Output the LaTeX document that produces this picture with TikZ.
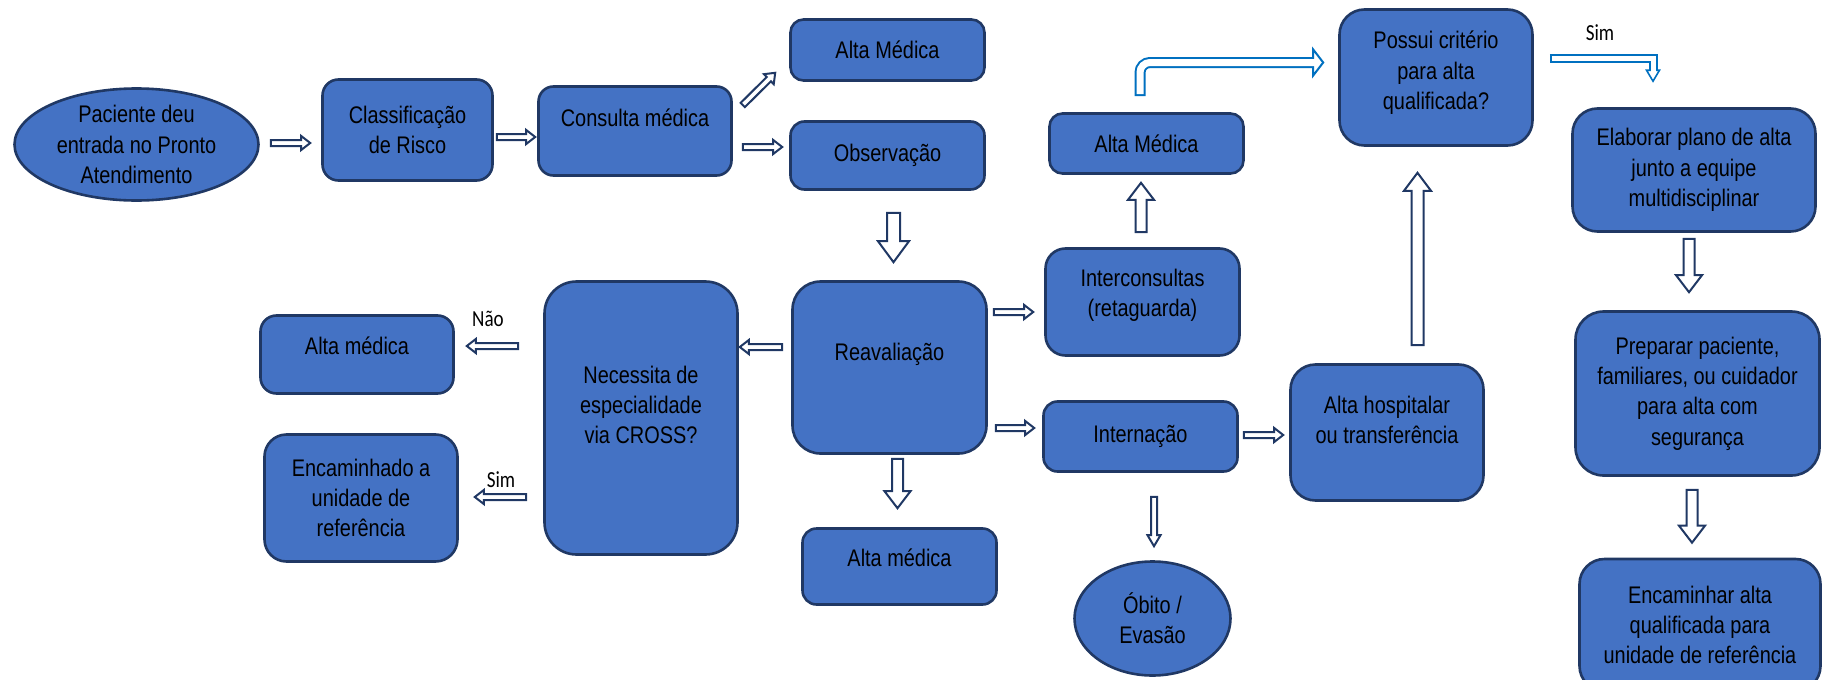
\documentclass[tikz,border=0pt]{standalone}
\usepackage{fontspec}
\setmainfont{Liberation Sans}[FakeStretch=0.83]
\newfontfamily\rotulofont{Carlito}[FakeStretch=0.83]
\usetikzlibrary{shapes.geometric,calc}

\definecolor{caixa}{HTML}{4472C4}
\definecolor{contorno}{HTML}{203864}
\definecolor{azulseta}{HTML}{0070C0}

\tikzset{
  etapa/.style={rectangle, rounded corners=#1, draw=contorno, fill=caixa, line width=2.6pt, inner sep=0pt, align=center, font=\fontsize{24}{30.4}\selectfont},
  etapa/.default=15pt,
  oval/.style={ellipse, draw=contorno, fill=caixa, line width=2.6pt, inner sep=0pt, align=center, font=\fontsize{24}{30.4}\selectfont},
  resposta/.style={font=\rotulofont\fontsize{23}{27}\selectfont},
  setaoca/.style={fill=white, draw=contorno, line width=2pt, line join=miter}
}

\newcommand{\setabloco}[6][setaoca]{%
  \path (#2) coordinate (s-a) (#3) coordinate (s-b);
  \path ($(s-b)!#6!(s-a)$) coordinate (s-h);
  \draw[#1] ($(s-a)!#4!90:(s-b)$) -- ($(s-h)!#4!90:(s-b)$) -- ($(s-h)!#5!90:(s-b)$)
    -- (s-b) -- ($(s-h)!#5!-90:(s-b)$) -- ($(s-h)!#4!-90:(s-b)$) -- ($(s-a)!#4!-90:(s-b)$) -- cycle;
}
\newcommand{\setap}[2]{\setabloco{#1}{#2}{3pt}{7pt}{9pt}}
\newcommand{\setam}[2]{\setabloco{#1}{#2}{5.5pt}{13pt}{17pt}}
\newcommand{\setag}[2]{\setabloco{#1}{#2}{6.5pt}{15.5pt}{21pt}}

\begin{document}
\begin{tikzpicture}[x=1pt,y=-1pt]
\useasboundingbox (0,0) rectangle (1824,680);

\node[oval, minimum width=244pt, minimum height=112pt] (pac) at (136.5,144.5) {Paciente deu\\entrada no Pronto\\Atendimento};
\node[etapa=16pt, minimum width=170pt, minimum height=101pt] (cls) at (407.5,130) {Classificação\\de Risco};
\node[etapa=15pt, minimum width=193pt, minimum height=89pt] (con) at (635,131) {Consulta médica\\[-4pt]\mbox{}};
\node[etapa=13pt, minimum width=194pt, minimum height=61pt] (amt) at (887.5,50) {Alta Médica};
\node[etapa=14pt, minimum width=194pt, minimum height=68pt] (obs) at (887.5,155.5) {Observação};
\node[etapa=28pt, minimum width=194pt, minimum height=172pt] (rea) at (889.5,367.5) {Reavaliação\\[1.6pt]\mbox{}};
\node[etapa=32pt, minimum width=193pt, minimum height=273pt] (nec) at (641,418) {Necessita de\\especialidade\\via CROSS?\\[-4pt]\mbox{}};
\node[etapa=16pt, minimum width=193pt, minimum height=78pt] (aml) at (357,354.5) {Alta médica\\[-13pt]\mbox{}};
\node[etapa=22pt, minimum width=193pt, minimum height=127pt] (enc) at (361,498) {Encaminhado a\\unidade de\\referência};
\node[etapa=14pt, minimum width=194pt, minimum height=76pt] (amb) at (899.5,566.5) {Alta médica\\[-13pt]\mbox{}};
\node[etapa=20pt, minimum width=194pt, minimum height=107pt] (int) at (1142.5,302) {Interconsultas\\(retaguarda)\\[-12pt]\mbox{}};
\node[etapa=13pt, minimum width=194pt, minimum height=60pt] (amm) at (1146.5,143.5) {Alta Médica};
\node[etapa=14pt, minimum width=194pt, minimum height=70pt] (inn) at (1140.5,436.5) {Internação};
\node[oval, minimum width=156pt, minimum height=114pt] (obi) at (1152.5,618.5) {Óbito /\\Evasão};
\node[etapa=25pt, minimum width=193pt, minimum height=136pt] (ahs) at (1387,432.5) {Alta hospitalar\\ou transferência\\[-5pt]\mbox{}};
\node[etapa=25pt, minimum width=193pt, minimum height=136pt] (pos) at (1436,77.5) {Possui critério\\para alta\\qualificada?\\[-16pt]\mbox{}};
\node[etapa=25pt, minimum width=243pt, minimum height=123pt] (ela) at (1694,170) {Elaborar plano de alta\\junto a equipe\\multidisciplinar};
\node[etapa=28pt, minimum width=244pt, minimum height=164pt] (pre) at (1697.5,393.5) {Preparar paciente,\\familiares, ou cuidador\\para alta com\\segurança};
\node[etapa=25pt, minimum width=241pt, minimum height=132pt] (ena) at (1700,625) {Encaminhar alta\\qualificada para\\unidade de referência};

\setap{$(pac.east)+(11,-1.5)$}{$(cls.west)+(-11,13)$}
\setap{$(cls.east)+(3,7)$}{$(con.west)+(-2,6)$}
\setap{$(con.east)+(10,-26)$}{$(amt.south west)+(-14,-9)$}
\setap{$(con.east)+(10,16)$}{$(obs.west)+(-7,-8.5)$}
\setag{$(obs.south)+(6,22)$}{$(rea.north)+(4,-18)$}
\setap{$(rea.west)+(-9,-20.5)$}{$(nec.east)+(1,-71)$}
\setap{$(nec.west)+(-25,-72)$}{$(aml.east)+(12,-8.5)$}
\setap{$(nec.west)+(-17,79)$}{$(enc.east)+(16,-1)$}
\setap{$(rea.east)+(6,-55.5)$}{$(int.west)+(-11,10)$}
\setap{$(rea.east)+(8,60.5)$}{$(inn.west)+(-8,-8.5)$}
\setam{$(rea.south)+(8,4)$}{$(amb.north)+(-2,-19)$}
\setam{$(int.north)+(-1.5,-15)$}{$(amm.south)+(-5.5,8)$}
\setap{$(inn.east)+(5,-1.5)$}{$(ahs.west)+(-6,2.5)$}
\setabloco{$(inn.south)+(13.5,24)$}{$(obi.north)+(1.5,-14)$}{3pt}{6.5pt}{11pt}
\setabloco{$(ahs.north)+(30.5,-18)$}{$(pos.south)+(-18.5,26)$}{6pt}{13.5pt}{18pt}
\setam{$(ela.south)+(-5,6)$}{$(pre.north)+(-8.5,-18)$}
\setam{$(pre.south)+(-5.5,13)$}{$(ena.north)+(-8,-15)$}

\node[resposta] (nao) at (488,319) {Não};
\node[resposta] (sim1) at (501,480) {Sim};
\node[resposta] (sim2) at (1600,33) {Sim};

\coordinate (c1) at ($(amm.north)+(-6.5,-16)$);
\coordinate (c1t) at ($(pos.west)+(-15,-15)$);
\draw[azulseta, line width=11pt, rounded corners=10pt] (c1) |- ($(c1t)+(-10,0)$);
\draw[azulseta, fill=white, line width=2pt, line join=miter] ($(c1t)+(-10,-13)$) -- (c1t) -- ($(c1t)+(-10,13)$) -- cycle;
\draw[white, line width=7pt, rounded corners=10pt, shorten <=2pt] (c1) |- ($(c1t)+(-8,0)$);

\coordinate (c2) at ($(pos.east)+(16,-19.5)$);
\coordinate (c2t) at ($(ela.north)+(-41,-26)$);
\draw[azulseta, line width=9pt, line join=miter] (c2) -| ($(c2t)+(0,-11)$);
\draw[azulseta, fill=white, line width=1.6pt, line join=miter] ($(c2t)+(-6.5,-11)$) -- (c2t) -- ($(c2t)+(6.5,-11)$) -- cycle;
\draw[white, line width=5pt, line join=miter, shorten <=2pt] (c2) -| ($(c2t)+(0,-9)$);
\end{tikzpicture}
\end{document}
